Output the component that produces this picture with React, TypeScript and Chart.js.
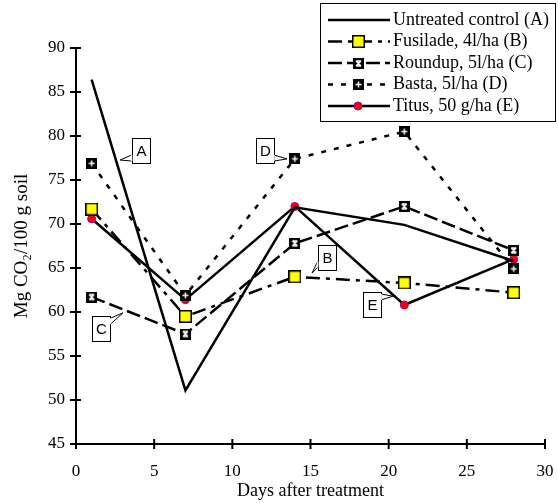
import React, { useEffect, useRef } from "react";
import { Chart, registerables } from "chart.js";

Chart.register(...registerables);

// ---- data ----
const days = [1, 7, 14, 21, 28];
const untreated = [86.4, 51.1, 71.9, 69.9, 65.8];
const fusilade = [71.7, 59.5, 64.0, 63.3, 62.2];
const roundup = [61.7, 57.5, 67.8, 72.0, 67.0];
const basta = [76.9, 61.9, 77.4, 80.5, 64.9];
const titus = [70.6, 61.4, 72.0, 60.8, 66.0];
const seriesLabels = [
  "Untreated control (A)",
  "Fusilade, 4l/ha (B)",
  "Roundup, 5l/ha (C)",
  "Basta, 5l/ha (D)",
  "Titus, 50 g/ha (E)",
];
const xTitle = "Days after treatment";
const yTitle = "Mg CO\u2082/100 g soil";

// callouts (data coordinates)
const calloutLabels = ["A", "B", "C", "D", "E"];
const calloutBoxX = [4.13, 16.03, 1.63, 12.09, 18.94];
const calloutBoxY = [78.35, 66.25, 58.1, 78.35, 60.85];
const calloutTipX = [2.82, 15.1, 3.0, 13.5, 20.28];
const calloutTipY = [77.27, 64.43, 59.9, 77.4, 61.8];

const SERIF = "'Liberation Serif', 'Times New Roman', serif";
const SANS = "'Liberation Sans', Arial, sans-serif";

function makeMarker(kind: string): HTMLCanvasElement {
  const c = document.createElement("canvas");
  const s = kind === "yellow" ? 13 : 11;
  c.width = s;
  c.height = s;
  const g = c.getContext("2d")!;
  g.fillStyle = "#000";
  g.fillRect(0, 0, s, s);
  if (kind === "yellow") {
    g.fillStyle = "#ffff00";
    g.fillRect(1.5, 1.5, s - 3, s - 3);
  } else {
    g.strokeStyle = "#fff";
    g.lineWidth = 1.5;
    g.beginPath();
    if (kind === "plus") {
      g.moveTo(5.5, 2.5);
      g.lineTo(5.5, 8.5);
      g.moveTo(2.5, 5.5);
      g.lineTo(8.5, 5.5);
    } else {
      g.moveTo(3, 3);
      g.lineTo(8, 8);
      g.moveTo(8, 3);
      g.lineTo(3, 8);
      g.moveTo(3, 3);
      g.lineTo(8, 3);
      g.moveTo(3, 8);
      g.lineTo(8, 8);
    }
    g.stroke();
  }
  return c;
}

export default function App() {
  const ref = useRef<HTMLCanvasElement | null>(null);

  useEffect(() => {
    const canvas = ref.current;
    if (!canvas) return;
    const mYellow = makeMarker("yellow");
    const mX = makeMarker("x");
    const mPlus = makeMarker("plus");

    const toPts = (vals: number[]) => days.map((d, i) => ({ x: d, y: vals[i] }));

    const styles = [
      { dash: [] as number[], marker: null as any },
      { dash: [14, 6, 4, 6], marker: mYellow },
      { dash: [14, 5], marker: mX },
      { dash: [5, 8], marker: mPlus },
      { dash: [] as number[], marker: "circle" },
    ];
    const values = [untreated, fusilade, roundup, basta, titus];

    const datasets = values.map((v, i) => {
      const st = styles[i];
      const base: any = {
        label: seriesLabels[i],
        data: toPts(v),
        borderColor: "#000",
        borderWidth: 2.5,
        borderDash: st.dash,
        fill: false,
        tension: 0,
        showLine: true,
      };
      if (i === 0) {
        base.pointRadius = 0;
      } else if (i === 4) {
        base.pointStyle = "circle";
        base.pointRadius = 4;
        base.pointBackgroundColor = "#ff0000";
        base.pointBorderColor = "#990099";
        base.pointBorderWidth = 1;
      } else {
        base.pointStyle = st.marker;
        base.pointRadius = 6;
        base.pointBorderWidth = 0;
      }
      return base;
    });

    const drawPlugin = {
      id: "custom",
      beforeDatasetsDraw(chart: any) {
        const { ctx, chartArea } = chart;
        const xs = chart.scales.x;
        const ys = chart.scales.y;
        ctx.save();
        ctx.strokeStyle = "#000";
        ctx.lineWidth = 2;
        ctx.beginPath();
        ctx.moveTo(chartArea.left, chartArea.top);
        ctx.lineTo(chartArea.left, chartArea.bottom);
        ctx.lineTo(chartArea.right, chartArea.bottom);
        ctx.stroke();
        ctx.beginPath();
        ys.ticks.forEach((t: any) => {
          const y = ys.getPixelForValue(t.value);
          ctx.moveTo(chartArea.left - 6, y);
          ctx.lineTo(chartArea.left + 5, y);
        });
        xs.ticks.forEach((t: any) => {
          const x = xs.getPixelForValue(t.value);
          ctx.moveTo(x, chartArea.bottom - 5);
          ctx.lineTo(x, chartArea.bottom + 5);
        });
        ctx.stroke();
        ctx.restore();
      },
      afterDatasetsDraw(chart: any) {
        const { ctx } = chart;
        const xs = chart.scales.x;
        const ys = chart.scales.y;
        ctx.save();
        // callouts
        const bw = 18;
        const bh = 25;
        calloutLabels.forEach((lab, i) => {
          const cx = xs.getPixelForValue(calloutBoxX[i]);
          const cy = ys.getPixelForValue(calloutBoxY[i]);
          const tx = xs.getPixelForValue(calloutTipX[i]);
          const ty = ys.getPixelForValue(calloutTipY[i]);
          const l = cx - bw / 2;
          const r = cx + bw / 2;
          const t = cy - bh / 2;
          const b = cy + bh / 2;
          let p1: number[], p2: number[];
          if (tx < l) {
            const by = Math.min(Math.max(ty, t + 5), b - 5);
            p1 = [l, by - 3];
            p2 = [l, by + 3];
          } else if (tx > r) {
            const by = Math.min(Math.max(ty, t + 5), b - 5);
            p1 = [r, by - 3];
            p2 = [r, by + 3];
          } else if (ty > b) {
            const bx = Math.min(Math.max(tx, l + 5), r - 5);
            p1 = [bx - 3, b];
            p2 = [bx + 3, b];
          } else {
            const bx = Math.min(Math.max(tx, l + 5), r - 5);
            p1 = [bx - 3, t];
            p2 = [bx + 3, t];
          }
          ctx.fillStyle = "#fff";
          ctx.strokeStyle = "#000";
          ctx.lineWidth = 1;
          ctx.beginPath();
          ctx.moveTo(p1[0], p1[1]);
          ctx.lineTo(tx, ty);
          ctx.lineTo(p2[0], p2[1]);
          ctx.closePath();
          ctx.fill();
          ctx.stroke();
          ctx.fillRect(Math.round(l) + 0.5, Math.round(t) + 0.5, bw, bh);
          ctx.strokeRect(Math.round(l) + 0.5, Math.round(t) + 0.5, bw, bh);
          ctx.strokeStyle = "#fff";
          ctx.lineWidth = 1.5;
          ctx.beginPath();
          ctx.moveTo(p1[0], p1[1]);
          ctx.lineTo(p2[0], p2[1]);
          ctx.stroke();
          ctx.fillStyle = "#000";
          ctx.font = `15px ${SANS}`;
          ctx.textAlign = "center";
          ctx.textBaseline = "middle";
          ctx.fillText(lab, Math.round(l) + 0.5 + bw / 2, Math.round(t) + 1 + bh / 2);
        });

        // legend
        const lx = 320.5;
        const ly = 3.5;
        const lw = 235;
        const lh = 118;
        ctx.fillStyle = "#fff";
        ctx.fillRect(lx, ly, lw, lh);
        ctx.strokeStyle = "#000";
        ctx.lineWidth = 1;
        ctx.strokeRect(lx, ly, lw, lh);
        seriesLabels.forEach((lab, i) => {
          const y = 20 + i * 21.5;
          ctx.strokeStyle = "#000";
          ctx.lineWidth = 2.5;
          ctx.setLineDash(styles[i].dash);
          ctx.beginPath();
          ctx.moveTo(328, y);
          ctx.lineTo(390, y);
          ctx.stroke();
          ctx.setLineDash([]);
          const mk = styles[i].marker;
          if (mk === "circle") {
            ctx.beginPath();
            ctx.arc(358, y, 4, 0, Math.PI * 2);
            ctx.fillStyle = "#ff0000";
            ctx.fill();
            ctx.strokeStyle = "#990099";
            ctx.lineWidth = 1;
            ctx.stroke();
          } else if (mk) {
            ctx.drawImage(mk, Math.round(358 - mk.width / 2), Math.round(y - mk.height / 2));
          }
          ctx.fillStyle = "#000";
          ctx.font = `18px ${SERIF}`;
          ctx.textAlign = "left";
          ctx.textBaseline = "middle";
          ctx.fillText(lab, 393, y);
        });
        ctx.restore();
      },
    };

    const chart = new Chart(canvas, {
      type: "line",
      data: { datasets },
      options: {
        responsive: false,
        animation: false,
        devicePixelRatio: 1,
        layout: { padding: { top: 48, right: 13, left: 0, bottom: 0 } },
        plugins: { legend: { display: false }, tooltip: { enabled: false } },
        scales: {
          x: {
            type: "linear",
            min: 0,
            max: 30,
            grid: { display: false, drawTicks: false },
            border: { display: false },
            ticks: {
              stepSize: 5,
              color: "#000",
              font: { family: SERIF, size: 17 },
              padding: 17,
              maxRotation: 0,
            },
            title: {
              display: true,
              text: xTitle,
              color: "#000",
              font: { family: SERIF, size: 18 },
              padding: { top: 0, bottom: 1 },
            },
            afterFit: (s: any) => {
              s.height = 59;
              s.paddingLeft = 0;
              s.paddingRight = 0;
            },
          },
          y: {
            type: "linear",
            min: 45,
            max: 90,
            grid: { display: false, drawTicks: false },
            border: { display: false },
            ticks: {
              stepSize: 5,
              color: "#000",
              font: { family: SERIF, size: 17 },
              padding: 11,
            },
            title: {
              display: true,
              text: yTitle,
              color: "#000",
              font: { family: SERIF, size: 19 },
              padding: { top: 11, bottom: 0 },
            },
            afterFit: (s: any) => {
              s.width = 76;
              s.paddingTop = 0;
              s.paddingBottom = 0;
            },
          },
        },
      } as any,
      plugins: [drawPlugin],
    });
    return () => chart.destroy();
  }, []);

  return (
    <div style={{ position: "absolute", left: 0, top: 0, width: 558, height: 503, background: "#fff" }}>
      <canvas ref={ref} width={558} height={503} style={{ width: 558, height: 503 }} />
    </div>
  );
}
